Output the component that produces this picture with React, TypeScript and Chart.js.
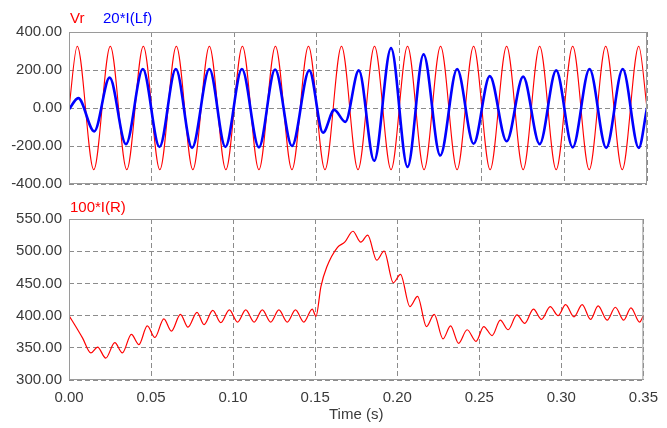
import React, { useEffect, useRef } from 'react';
import { Chart, registerables } from 'chart.js';

Chart.register(...registerables);

// ---- Data ----
const xTickValues = [0, 0.05, 0.1, 0.15, 0.2, 0.25, 0.3, 0.35];
const topTickValues = [-400, -200, 0, 200, 400];
const bottomTickValues = [300, 350, 400, 450, 500, 550];

// Vr: extrema of the supply voltage
const vrTimes = [0, 0.005, 0.015, 0.025, 0.035, 0.045, 0.055, 0.065, 0.075, 0.085, 0.095,
  0.105, 0.115, 0.125, 0.135, 0.145, 0.155, 0.165, 0.175, 0.185, 0.195,
  0.205, 0.215, 0.225, 0.235, 0.245, 0.255, 0.265, 0.275, 0.285, 0.295,
  0.305, 0.315, 0.325, 0.335, 0.345, 0.35];
const vrValues = [0,
  325, -325, 325, -325, 325, -325, 325, -325, 325, -325,
  325, -325, 325, -325, 325, -325, 325, -325, 325, -325,
  325, -325, 325, -325, 325, -325, 325, -325, 325, -325,
  325, -325, 325, -325, 325,
  0];

// 20*I(Lf): extrema of the inductor current
const ilfTimes = [0, 0.0056, 0.0153, 0.0246, 0.0345, 0.0447, 0.0548, 0.0647, 0.0745, 0.085,
  0.0947, 0.1047, 0.115, 0.1248, 0.135, 0.1455, 0.1538, 0.1606, 0.1673, 0.1755,
  0.1848, 0.195, 0.205, 0.2147, 0.2248, 0.235, 0.245, 0.2548, 0.265, 0.275,
  0.285, 0.295, 0.305, 0.3152, 0.3253, 0.3353, 0.345, 0.35];
const ilfValues = [-7, 52, -123, 160, -190, 205, -205, 205, -210, 205,
  -205, 205, -207, 203, -200, 198, -130, -10, -73, 198,
  -278, 315, -310, 282, -250, 205, -188, 168, -175, 165,
  -190, 198, -207, 205, -210, 205, -210, 0];

// 100*I(R)
const irTimes = [0, 0.0053, 0.0083, 0.0133, 0.0174, 0.0224, 0.0279, 0.0325, 0.038, 0.0426,
  0.0477, 0.0523, 0.0578, 0.0624, 0.0679, 0.0725, 0.078, 0.0823, 0.0876, 0.0925,
  0.0977, 0.1027, 0.1077, 0.1128, 0.1178, 0.1229, 0.1279, 0.133, 0.138, 0.1431,
  0.1482, 0.1505, 0.1535, 0.157, 0.1636, 0.168, 0.173, 0.1778, 0.182, 0.1875,
  0.192, 0.1976, 0.202, 0.2077, 0.2124, 0.2178, 0.2225, 0.2279, 0.2325, 0.2374,
  0.2426, 0.248, 0.2527, 0.2578, 0.2628, 0.2676, 0.2729, 0.2777, 0.283, 0.2879,
  0.2932, 0.298, 0.3026, 0.3077, 0.3127, 0.3178, 0.3224, 0.3279, 0.3329, 0.338,
  0.3424, 0.3477, 0.35];
const irValues = [400, 378, 365, 342, 351, 334, 358, 342, 371, 355,
  384, 366, 395, 376, 402, 382, 405, 386, 408, 389,
  409, 390, 409, 390, 409, 390, 409, 390, 409, 390,
  410, 399, 445, 475, 506, 514, 531, 514, 525, 486,
  500, 451, 464, 414, 430, 383, 402, 364, 384, 357,
  378, 360, 383, 369, 393, 378, 401, 388, 410, 394,
  414, 400, 417, 398, 417, 394, 415, 393, 413, 393,
  412, 390, 400];

const toPoints = (ts: number[], vs: number[]) => ts.map((t, i) => ({ x: t, y: vs[i] }));

const FONT_FAMILY = '"Liberation Sans", Arial, sans-serif';
const TICK_COLOR = '#3a3a3a';
const GRID_COLOR = '#8c8c8c';
const BOX_COLOR = '#9a9a9a';

const boxPlugin = {
  id: 'plotBox',
  afterDraw(chart: any) {
    const { ctx, chartArea: a } = chart;
    ctx.save();
    ctx.strokeStyle = BOX_COLOR;
    ctx.lineWidth = 1;
    ctx.setLineDash([]);
    ctx.strokeRect(a.left + 0.5, a.top + 0.5, a.right - a.left - 1, a.bottom - a.top - 1);
    ctx.restore();
  },
};

function xScale(showLabels: boolean) {
  return {
    type: 'linear',
    min: 0,
    max: 0.35,
    afterBuildTicks: (s: any) => { s.ticks = xTickValues.map((v) => ({ value: v })); },
    ticks: {
      display: showLabels,
      padding: 9,
      color: TICK_COLOR,
      font: { family: FONT_FAMILY, size: 15 },
      callback: (v: any) => Number(v).toFixed(2),
      maxRotation: 0,
      autoSkip: false,
    },
    grid: { color: GRID_COLOR, lineWidth: 1, drawTicks: false },
    border: { display: false, dash: [5, 3] },
    title: showLabels
      ? { display: true, text: 'Time (s)', color: TICK_COLOR, font: { family: FONT_FAMILY, size: 15 }, padding: { top: 0, bottom: 4 } }
      : { display: false },
    afterFit: (s: any) => { s.height = showLabels ? 48 : 0; },
  };
}

function yScale(min: number, max: number, tickVals: number[]) {
  return {
    min,
    max,
    afterBuildTicks: (s: any) => { s.ticks = tickVals.map((v) => ({ value: v })); },
    ticks: {
      padding: 7,
      color: TICK_COLOR,
      font: { family: FONT_FAMILY, size: 15 },
      callback: (v: any) => Number(v).toFixed(2),
    },
    grid: { color: GRID_COLOR, lineWidth: 1, drawTicks: false },
    border: { display: false, dash: [5, 3] },
    afterFit: (s: any) => { s.width = 69; },
  };
}

export default function App() {
  const topRef = useRef<HTMLCanvasElement>(null);
  const botRef = useRef<HTMLCanvasElement>(null);

  useEffect(() => {
    const top = new Chart(topRef.current as HTMLCanvasElement, {
      type: 'line',
      data: {
        datasets: [
          {
            label: '20*I(Lf)',
            data: toPoints(ilfTimes, ilfValues),
            borderColor: '#0000ff',
            borderWidth: 2.6,
            pointRadius: 0,
            cubicInterpolationMode: 'monotone',
            fill: false,
          },
          {
            label: 'Vr',
            data: toPoints(vrTimes, vrValues),
            borderColor: '#ff0000',
            borderWidth: 1.1,
            pointRadius: 0,
            cubicInterpolationMode: 'monotone',
            fill: false,
          },
        ],
      },
      options: {
        animation: false,
        responsive: false,
        events: [],
        layout: { padding: { top: 32, bottom: 8, left: 0, right: 20 } },
        plugins: { legend: { display: false }, tooltip: { enabled: false } },
        scales: {
          x: xScale(false) as any,
          y: yScale(-400, 400, topTickValues) as any,
        },
      },
      plugins: [boxPlugin],
    } as any);

    const bottom = new Chart(botRef.current as HTMLCanvasElement, {
      type: 'line',
      data: {
        datasets: [
          {
            label: '100*I(R)',
            data: toPoints(irTimes, irValues),
            borderColor: '#ff0000',
            borderWidth: 1.2,
            pointRadius: 0,
            cubicInterpolationMode: 'monotone',
            fill: false,
          },
        ],
      },
      options: {
        animation: false,
        responsive: false,
        events: [],
        layout: { padding: { top: 19, bottom: 0, left: 0, right: 20 } },
        plugins: { legend: { display: false }, tooltip: { enabled: false } },
        scales: {
          x: xScale(true) as any,
          y: yScale(300, 550, bottomTickValues) as any,
        },
      },
      plugins: [boxPlugin],
    } as any);

    return () => {
      top.destroy();
      bottom.destroy();
    };
  }, []);

  const labelStyle = (left: number, top: number, color: string): React.CSSProperties => ({
    position: 'absolute',
    left,
    top,
    color,
    fontFamily: FONT_FAMILY,
    fontSize: 15,
    lineHeight: '18px',
    whiteSpace: 'nowrap',
  });

  return (
    <div style={{ position: 'fixed', left: 0, top: 0, width: 667, height: 428, background: '#ffffff' }}>
      <canvas ref={topRef} width={667} height={200} style={{ position: 'absolute', left: 0, top: 0 }} />
      <canvas ref={botRef} width={667} height={228} style={{ position: 'absolute', left: 0, top: 200 }} />
      <span style={labelStyle(70, 9, '#ff0000')}>Vr</span>
      <span style={labelStyle(103, 9, '#0000ff')}>20*I(Lf)</span>
      <span style={labelStyle(70, 198, '#ff0000')}>100*I(R)</span>
    </div>
  );
}
